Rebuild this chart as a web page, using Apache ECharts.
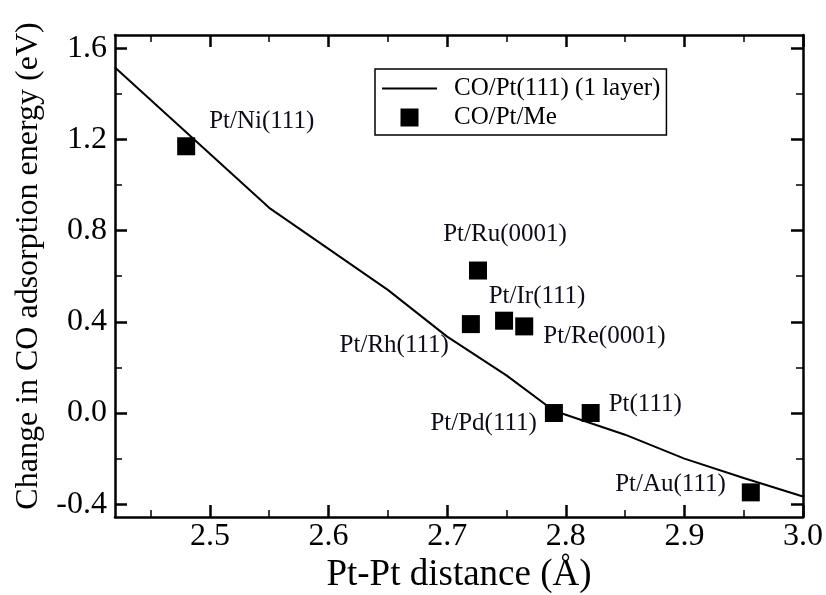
<!DOCTYPE html>
<html>
<head>
<meta charset="utf-8">
<script src="https://cdn.jsdelivr.net/npm/echarts@6/dist/echarts.min.js"></script>
<style>
  html, body { margin: 0; padding: 0; background: #fff; }
  #chart { width: 826px; height: 595px; }
</style>
</head>
<body>
<div id="chart"></div>
<script>
// CO/Pt(111) single-layer curve: Pt-Pt distance (Å) vs change in CO adsorption energy (eV)
const curveDistance = [2.42, 2.55, 2.65, 2.70, 2.75, 2.79, 2.85, 2.90, 2.95, 3.00];
const curveEnergy   = [1.515, 0.90, 0.54, 0.335, 0.165, 0.01, -0.095, -0.20, -0.285, -0.366];

// CO/Pt/Me overlayer systems
const systemNames    = ['Pt/Ni(111)', 'Pt/Ru(0001)', 'Pt/Rh(111)', 'Pt/Ir(111)', 'Pt/Re(0001)', 'Pt/Pd(111)', 'Pt(111)', 'Pt/Au(111)'];
const systemDistance = [2.480, 2.726, 2.720, 2.748, 2.765, 2.790, 2.821, 2.956];
const systemEnergy   = [1.17, 0.625, 0.39, 0.405, 0.38, 0.00, 0.00, -0.348];

// Axis ticks
const xMajorTicks = [2.5, 2.6, 2.7, 2.8, 2.9, 3.0];
const xMinorTicks = [2.45, 2.55, 2.65, 2.75, 2.85, 2.95];
const yMajorTicks = [-0.4, 0.0, 0.4, 0.8, 1.2, 1.6];
const yMinorTicks = [-0.2, 0.2, 0.6, 1.0, 1.4];

const seriesNames = ['CO/Pt(111) (1 layer)', 'CO/Pt/Me'];

// Where each point's label sits relative to its marker centre
const labelPlacement = {
  'Pt/Ni(111)':  { align: 'left',   offset: [23, -25] },
  'Pt/Ru(0001)': { align: 'center', offset: [27, -36] },
  'Pt/Rh(111)':  { align: 'right',  offset: [-22, 21] },
  'Pt/Ir(111)':  { align: 'center', offset: [33, -24] },
  'Pt/Re(0001)': { align: 'left',   offset: [19, 10] },
  'Pt/Pd(111)':  { align: 'right',  offset: [-17, 10] },
  'Pt(111)':     { align: 'left',   offset: [18, -9] },
  'Pt/Au(111)':  { align: 'right',  offset: [-25, -8] }
};

const FONT = "'Liberation Serif', 'Times New Roman', serif";
const INK = '#000';
const MARK = 18;
const X_MIN = 2.42, X_MAX = 3.0, Y_MIN = -0.456, Y_MAX = 1.658;

function frameAxis(kind, position, opts) {
  const base = {
    type: 'value',
    position: position,
    min: kind === 'x' ? X_MIN : Y_MIN,
    max: kind === 'x' ? X_MAX : Y_MAX,
    splitLine: { show: false },
    axisLine: { show: !!opts.line, onZero: false, lineStyle: { color: INK, width: 2.5 } },
    axisTick: {
      show: true, inside: true, length: opts.major ? 12 : 7,
      customValues: opts.ticks,
      lineStyle: { color: INK, width: opts.major ? 2.5 : 1.5 }
    },
    axisLabel: { show: false },
    nameMoveOverlap: false
  };
  return Object.assign(base, opts.extra || {});
}

const xAxes = [
  frameAxis('x', 'bottom', {
    line: true, major: true, ticks: xMajorTicks,
    extra: {
      name: 'Pt-Pt distance (Å)',
      nameLocation: 'middle',
      nameGap: 40,
      nameTextStyle: { fontFamily: FONT, fontSize: 37, color: INK },
      axisLabel: {
        show: true, customValues: xMajorTicks, margin: 4,
        fontFamily: FONT, fontSize: 32, color: INK,
        formatter: v => v.toFixed(1)
      }
    }
  }),
  frameAxis('x', 'bottom', { line: false, major: false, ticks: xMinorTicks }),
  frameAxis('x', 'top', { line: true, major: true, ticks: xMajorTicks }),
  frameAxis('x', 'top', { line: false, major: false, ticks: xMinorTicks })
];

const yAxes = [
  frameAxis('y', 'left', {
    line: true, major: true, ticks: yMajorTicks,
    extra: {
      name: 'Change in CO adsorption energy (eV)',
      nameLocation: 'middle',
      nameGap: 70,
      nameTextStyle: { fontFamily: FONT, fontSize: 32, color: INK, padding: [0, 0, 0, 20] },
      axisLabel: {
        show: true, customValues: yMajorTicks, margin: 8,
        fontFamily: FONT, fontSize: 32, color: INK,
        formatter: v => v.toFixed(1)
      }
    }
  }),
  frameAxis('y', 'left', { line: false, major: false, ticks: yMinorTicks }),
  frameAxis('y', 'right', { line: true, major: true, ticks: yMajorTicks }),
  frameAxis('y', 'right', { line: false, major: false, ticks: yMinorTicks })
];

const curveData = curveDistance.map((x, i) => [x, curveEnergy[i]]);
const systemData = systemNames.map((name, i) => {
  const p = labelPlacement[name];
  return {
    name: name,
    value: [systemDistance[i], systemEnergy[i]],
    // position is measured from the marker's top-left corner
    label: { align: p.align, position: [MARK / 2 + p.offset[0], MARK / 2 + p.offset[1]] }
  };
});

const chart = echarts.init(document.getElementById('chart'), null, { renderer: 'canvas' });
chart.setOption({
  animation: false,
  backgroundColor: '#fff',
  grid: { left: 115, right: 23, top: 35, bottom: 78, containLabel: false, outerBoundsMode: 'none' },
  xAxis: xAxes,
  yAxis: yAxes,
  legend: {
    left: 375, top: 69,
    orient: 'vertical',
    selectedMode: false,
    backgroundColor: '#fff',
    borderColor: INK, borderWidth: 1.5, borderRadius: 0,
    padding: [7, 6, 5, 7],
    itemWidth: 55, itemHeight: 18, itemGap: 4,
    symbolKeepAspect: true,
    textStyle: { fontFamily: FONT, fontSize: 25, color: INK, padding: [0, 0, 0, 12] },
    data: [
      // thin bar standing in for the curve's line sample
      { name: seriesNames[0], icon: 'path://M0,0L55,0L55,1.8L0,1.8Z', itemStyle: { color: INK } },
      { name: seriesNames[1], icon: 'path://M0,0L10,0L10,10L0,10Z', itemStyle: { color: INK } }
    ]
  },
  series: [
    {
      name: seriesNames[0],
      type: 'line',
      data: curveData,
      showSymbol: false,
      symbol: 'none',
      smooth: false,
      lineStyle: { color: INK, width: 2 },
      itemStyle: { color: INK },
      z: 2
    },
    {
      name: seriesNames[1],
      type: 'scatter',
      data: systemData,
      symbol: 'rect',
      symbolSize: MARK,
      itemStyle: { color: INK, opacity: 1 },
      label: {
        show: true,
        verticalAlign: 'middle',
        formatter: p => p.name,
        fontFamily: FONT, fontSize: 25, color: '#0d0d1a'
      },
      z: 3
    }
  ]
});
</script>
</body>
</html>
